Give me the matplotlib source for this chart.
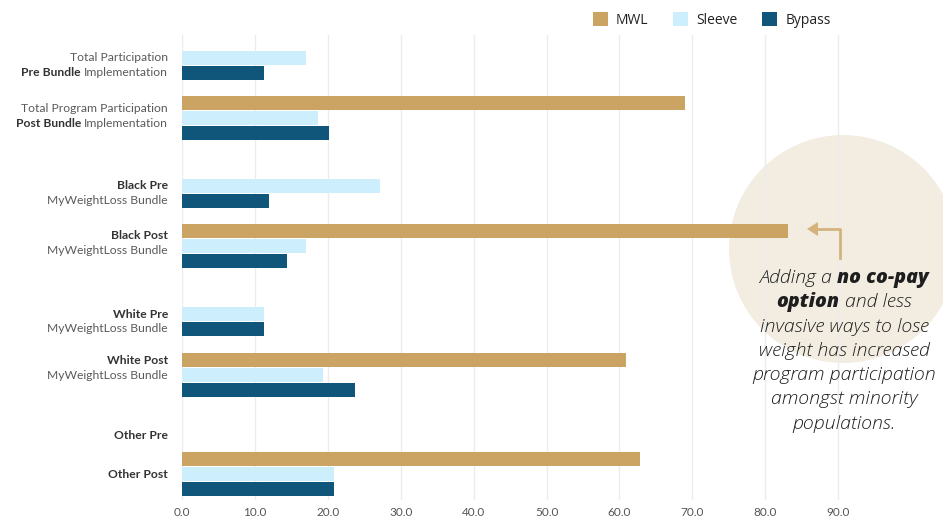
import matplotlib
matplotlib.use('Agg')
import matplotlib.pyplot as plt
from matplotlib import transforms
from matplotlib.patches import Ellipse, Polygon, Patch
from matplotlib.lines import Line2D

# participation share (%) by group and procedure
groups = ['Total Pre', 'Total Post', 'Black Pre', 'Black Post',
          'White Pre', 'White Post', 'Other Pre', 'Other Post']
mwl = [0, 69.0, 0, 83.1, 0, 60.9, 0, 62.8]
sleeve = [17.0, 18.7, 27.2, 17.0, 11.2, 19.3, 0, 20.8]
bypass = [11.2, 20.2, 11.9, 14.4, 11.2, 23.7, 0, 20.8]

# axis labels, one list of (text, weight) pieces per line
group_labels = [
    [[('Total Participation', 'normal')], [('Pre Bundle', 'bold'), ('Implementation', 'normal')]],
    [[('Total Program Participation', 'normal')], [('Post Bundle', 'bold'), ('Implementation', 'normal')]],
    [[('Black Pre', 'bold')], [('MyWeightLoss Bundle', 'normal')]],
    [[('Black Post', 'bold')], [('MyWeightLoss Bundle', 'normal')]],
    [[('White Pre', 'bold')], [('MyWeightLoss Bundle', 'normal')]],
    [[('White Post', 'bold')], [('MyWeightLoss Bundle', 'normal')]],
    [[('Other Pre', 'bold')]],
    [[('Other Post', 'bold')]],
]
note_lines = [
    [('Adding a', 'light'), ('no co-pay', 'heavy')],
    [('option', 'heavy'), ('and less', 'light')],
    [('invasive ways to lose', 'light')],
    [('weight has increased', 'light')],
    [('program participation', 'light')],
    [('amongst minority', 'light')],
    [('populations.', 'light')],
]
xticks = [0, 10, 20, 30, 40, 50, 60, 70, 80, 90]

c_mwl, c_sleeve, c_bypass = '#cba463', '#cdeefc', '#10557a'

# layout: y of each cluster centre (bar slots), label offset from it
group_y = [1.53, 5.53, 10.07, 14.07, 18.6, 22.67, 26.73, 29.27]
label_off = [0.5, -0.13, 0.45, -0.23, 0.5, -0.5, 0.0, 0.0]
bar_h = 0.93

W, H = 943, 521
fig = plt.figure(figsize=(W / 100, H / 100), dpi=100)
ax = fig.add_axes([182 / W, 1 - 500 / H, 729 / W, 465 / H])
ax.patch.set_visible(False)


def px(x, y):
    return x / W, 1 - y / H


for i, y in enumerate(group_y):
    for val, off, col in [(mwl[i], -1, c_mwl), (sleeve[i], 0, c_sleeve), (bypass[i], 1, c_bypass)]:
        if val > 0:
            ax.barh(y + off, val, height=bar_h, color=col, zorder=2)

ax.set_xlim(0, 100)
ax.set_ylim(31, 0)
ax.set_xticks(xticks)
ax.set_xticklabels([f'{v:.1f}' for v in xticks], family='Lato', fontsize=8.5, color='#555555')
ax.set_yticks([])
ax.tick_params(axis='x', length=0, pad=5)
ax.grid(axis='x', color='#ececec', lw=1, zorder=1)
ax.set_axisbelow(True)
for s in ax.spines.values():
    s.set_visible(False)

renderer = fig.canvas.get_renderer()


def text_width(s, **kw):
    t = fig.text(0, 0, s, transform=transforms.IdentityTransform(), **kw)
    w = t.get_window_extent(renderer).width
    t.remove()
    return w


def rich_line(x, y, parts, trans, ha='right', colors=None, **kw):
    gap = text_width('a a', **kw) - text_width('aa', **kw)
    objs = []
    for s, w in parts:
        extra = {'color': colors[w]} if colors else {}
        objs.append(fig.text(0, 0, s, fontweight=w, ha='left', va='center',
                             transform=transforms.IdentityTransform(), **extra, **kw))
    widths = [t.get_window_extent(renderer).width for t in objs]
    total = sum(widths) + gap * (len(objs) - 1)
    x0, y0 = trans.transform((x, y))
    start = x0 - total if ha == 'right' else x0 - total / 2
    for t, w in zip(objs, widths):
        t.set_position((start, y0))
        start += w + gap


lab_trans = transforms.blended_transform_factory(fig.transFigure, ax.transData)
lab_colors = {'normal': '#5a5a5a', 'bold': '#333333'}
for y, off, lines in zip(group_y, label_off, group_labels):
    yc = y + off
    n = len(lines)
    for k, parts in enumerate(lines):
        ly = yc + (k - (n - 1) / 2)
        rich_line(168 / W, ly, parts, lab_trans, ha='right', colors=lab_colors,
                  family='Lato', fontsize=8.7)

# highlight circle behind the callout
fig.patches.append(Ellipse(px(843, 249), 2 * 114 / W, 2 * 114 / H,
                           transform=fig.transFigure, facecolor='#f3ede1',
                           edgecolor='none', zorder=-1))

# elbow arrow pointing at the Black Post bar
arrow_col = '#d4b27c'
xs, ys = zip(px(840, 258), px(840, 229), px(816, 229))
fig.lines.append(Line2D(xs, ys, transform=fig.transFigure, color=arrow_col, lw=2, zorder=3))
fig.patches.append(Polygon([px(807, 229), px(818, 222), px(818, 236)], closed=True,
                           transform=fig.transFigure, facecolor=arrow_col,
                           edgecolor='none', zorder=3))

for k, parts in enumerate(note_lines):
    rich_line(*px(844, 278 + 24.3 * k), parts, fig.transFigure, ha='center',
              family='Open Sans', style='italic', fontsize=14, color='#1e1e1e')

handles = [Patch(facecolor=c, edgecolor='none') for c in (c_mwl, c_sleeve, c_bypass)]
fig.legend(handles, ['MWL', 'Sleeve', 'Bypass'], ncol=3, frameon=False,
           loc='center left', bbox_to_anchor=px(580, 20),
           prop={'family': 'Open Sans', 'size': 10},
           handlelength=1.1, handleheight=1.1, handletextpad=0.6,
           columnspacing=1.75, labelcolor='#222222')

fig.savefig('out.png', dpi=100)
